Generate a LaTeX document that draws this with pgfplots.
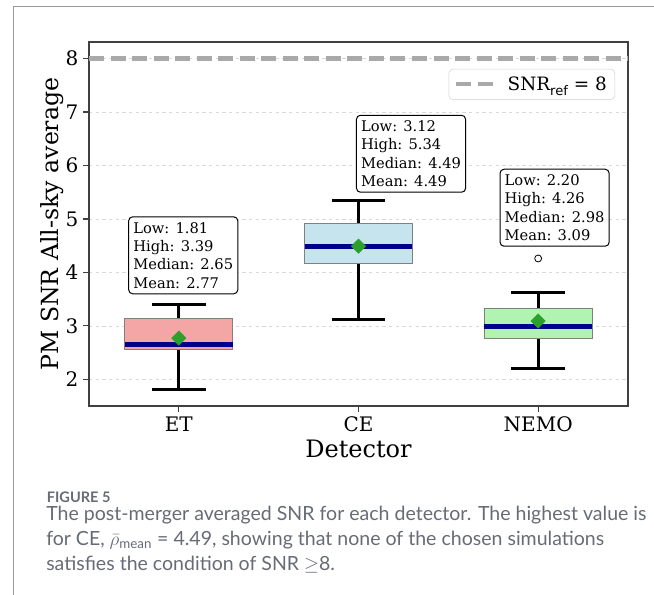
\documentclass[border=0pt]{standalone}
\usepackage{fontspec}
\setmainfont{DejaVu Serif}
\setsansfont{DejaVu Sans}
\newfontfamily\capfont{Lato}
\usepackage{pgfplots}
\pgfplotsset{compat=1.18}
\usepgfplotslibrary{statistics}
\definecolor{etfill}{HTML}{F4A6A6}
\definecolor{cefill}{HTML}{C5E4ED}
\definecolor{nemofill}{HTML}{B1F3B1}
\definecolor{medblue}{HTML}{00008B}
\definecolor{meangreen}{HTML}{2CA02C}
\definecolor{refgray}{HTML}{A9A9A9}
\definecolor{capgray}{HTML}{676B76}
\definecolor{framegray}{HTML}{9A9A9A}
\definecolor{spine}{HTML}{404040}

\pgfplotsset{
  mybox/.style={
    boxplot/draw direction=y,
    boxplot/every box/.style={draw=gray, line width=0.75pt, fill=#1},
    boxplot/every whisker/.style={black, line width=2.25pt},
    boxplot/every median/.style={medblue, line width=3.6pt},
    mark=o, mark size=2.6pt, mark options={black, line width=0.6pt, fill=white},
  },
}
\tikzset{
  annot/.style={anchor=south west, draw=black, fill=white, rounded corners=3pt,
    line width=0.75pt, align=left, inner xsep=3.5pt, inner ysep=4pt,
    font=\fontsize{11}{13.8}\selectfont},
  captxt/.style={anchor=base west, inner sep=0, text=capgray, font=\capfont\fontsize{14.65}{17}\selectfont},
}

\begin{document}
\begin{tikzpicture}
\useasboundingbox (0,0) rectangle (490.5pt,446.25pt);
\draw[framegray, line width=0.75pt] (490.5pt,441pt) -- (9.75pt,441pt) -- (9.75pt,0pt);
\begin{axis}[
  at={(66.75pt,141.75pt)}, anchor=south west,
  scale only axis, width=404.25pt, height=273pt,
  xmin=0.5, xmax=3.5, ymin=1.5, ymax=8.31,
  xtick={1,2,3}, xticklabels={ET,CE,NEMO},
  ytick={2,3,4,5,6,7,8},
  /pgf/number format/assume math mode=true,
  tick label style={font=\fontsize{15}{18}\selectfont},
  tick align=outside, tick pos=left,
  major tick length=4.5pt,
  axis line style={spine, line width=0.9pt},
  tick style={spine, line width=0.9pt},
  ymajorgrids,
  major grid style={black!15, line width=0.4pt, dash pattern=on 2.5pt off 2.5pt},
  ylabel={PM SNR All-sky average},
  xlabel={Detector},
  every axis y label/.style={at={(axis description cs:-0.069,0.5)}, rotate=90, anchor=center, font=\fontsize{17.7}{22}\selectfont},
  every axis x label/.style={at={(axis description cs:0.5,-0.118)}, anchor=center, font=\fontsize{18}{22}\selectfont},
  legend style={at={(0.976,0.926)}, anchor=north east, draw=black!18, rounded corners=3pt,
    fill=white, font=\fontsize{13.8}{17}\selectfont, inner xsep=4pt, inner ysep=3.5pt,
    cells={anchor=west}},
  legend image code/.code={\draw[#1] (0pt,0pt) -- (27.4pt,0pt);},
]
\addplot[refgray, line width=3.2pt, dash pattern=on 11.25pt off 4.9pt] coordinates {(0.5,8) (3.5,8)};
\addlegendentry{\hspace{7.5pt}SNR\raisebox{-0.3em}{\sffamily\fontsize{9.8}{12}\selectfont ref} = 8}

\addplot[mybox=etfill, boxplot prepared={draw position=1, lower whisker=1.81, lower quartile=2.56,
  median=2.65, upper quartile=3.14, upper whisker=3.39, box extend=0.6, whisker extend=0.3}]
  coordinates {};
\addplot[mybox=cefill, boxplot prepared={draw position=2, lower whisker=3.12, lower quartile=4.16,
  median=4.49, upper quartile=4.91, upper whisker=5.34, box extend=0.6, whisker extend=0.3}]
  coordinates {};
\addplot[mybox=nemofill, boxplot prepared={draw position=3, lower whisker=2.20, lower quartile=2.77,
  median=2.98, upper quartile=3.33, upper whisker=3.63, box extend=0.6, whisker extend=0.3}]
  table[row sep=\\, y index=0] {data\\ 4.26\\};

\addplot[only marks, mark=square*, mark size=3.8pt,
  mark options={rotate=45, fill=meangreen, draw=meangreen}]
  coordinates {(1,2.77) (2,4.49) (3,3.09)};

\node[annot] at (axis cs:0.718,3.59) {Low: 1.81\\High: 3.39\\Median: 2.65\\Mean: 2.77};
\node[annot] at (axis cs:1.986,5.49) {Low: 3.12\\High: 5.34\\Median: 4.49\\Mean: 4.49};
\node[annot] at (axis cs:2.785,4.48) {Low: 2.20\\High: 4.26\\Median: 2.98\\Mean: 3.09};
\end{axis}
\node[captxt, font=\capfont\bfseries\fontsize{10.9}{13}\selectfont] at (35pt,69.5pt) {FIGURE 5};
\node[captxt] at (34.5pt,55.5pt) {The post-merger averaged SNR for each detector. The highest value is};
\node[captxt] at (34.5pt,36.75pt) {for CE, $\bar{\rho}_{\mbox{\capfont\fontsize{10}{12}\selectfont mean}}$ = 4.49, showing that none of the chosen simulations};
\node[captxt] at (34.5pt,18pt) {satisfies the condition of SNR $\geq$8.};
\end{tikzpicture}
\end{document}
